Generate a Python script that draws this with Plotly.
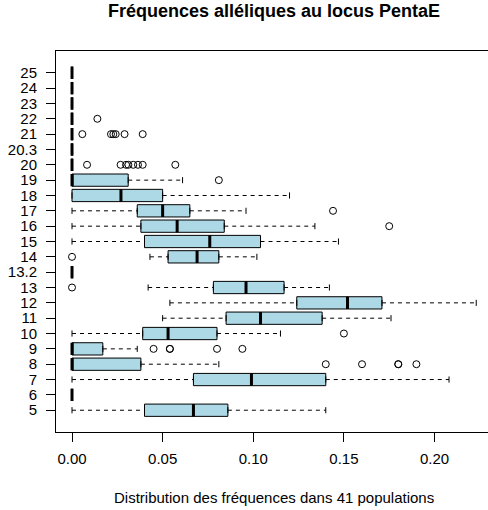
import plotly.graph_objects as go

# ---- data ----
alleles = ["5", "6", "7", "8", "9", "10", "11", "12", "13", "13.2", "14", "15",
           "16", "17", "18", "19", "20", "20.3", "21", "22", "23", "24", "25"]
lower_whisker = [0.000, 0, 0.000, 0, 0, 0.000, 0.050, 0.054, 0.042, 0, 0.043, 0.000,
                 0.000, 0.000, 0, 0, 0, 0, 0, 0, 0, 0, 0]
q1 = [0.040, 0, 0.067, 0, 0, 0.039, 0.085, 0.124, 0.078, 0, 0.053, 0.040,
      0.038, 0.036, 0, 0, 0, 0, 0, 0, 0, 0, 0]
median = [0.067, 0, 0.099, 0, 0, 0.053, 0.104, 0.152, 0.096, 0, 0.069, 0.076,
          0.058, 0.050, 0.027, 0, 0, 0, 0, 0, 0, 0, 0]
q3 = [0.086, 0, 0.140, 0.038, 0.017, 0.080, 0.138, 0.171, 0.117, 0, 0.081, 0.104,
      0.084, 0.065, 0.050, 0.031, 0, 0, 0, 0, 0, 0, 0]
upper_whisker = [0.140, 0, 0.208, 0.081, 0.036, 0.115, 0.176, 0.223, 0.142, 0, 0.102, 0.147,
                 0.134, 0.096, 0.120, 0.061, 0, 0, 0, 0, 0, 0, 0]
outlier_allele = ["8", "8", "8", "8", "8",
                  "9", "9", "9", "9", "9",
                  "10", "13", "14", "16", "17", "19",
                  "20", "20", "20", "20", "20", "20", "20", "20",
                  "21", "21", "21", "21", "21", "21",
                  "22"]
outlier_value = [0.140, 0.160, 0.180, 0.180, 0.190,
                 0.045, 0.054, 0.054, 0.080, 0.094,
                 0.150, 0.000, 0.000, 0.175, 0.144, 0.081,
                 0.0083, 0.0268, 0.0298, 0.0311, 0.0338, 0.0364, 0.039, 0.057,
                 0.0057, 0.0215, 0.0228, 0.0241, 0.029, 0.039,
                 0.014]

title_text = "Fréquences alléliques au locus PentaE"
xlabel_text = "Distribution des fréquences dans 41 populations"
x_ticks = [0.0, 0.05, 0.10, 0.15, 0.20]

# ---- derived ----
pos = list(range(1, len(alleles) + 1))
pos_of = {a: p for a, p in zip(alleles, pos)}
box_w = 0.8
staple_half = 0.2
FONT = "Liberation Sans, Arial, Helvetica, sans-serif"

fig = go.Figure()

fig.add_trace(go.Box(
    orientation="h", y=pos, q1=q1, median=median, q3=q3,
    lowerfence=q1, upperfence=q3,
    width=box_w, fillcolor="#ADD8E6",
    line=dict(color="black", width=1),
    boxpoints=False, hoverinfo="skip",
))

# dashed whiskers
wx, wy = [], []
for p, lo, a, b, hi in zip(pos, lower_whisker, q1, q3, upper_whisker):
    if lo < a:
        wx += [lo, a, None]; wy += [p, p, None]
    if hi > b:
        wx += [b, hi, None]; wy += [p, p, None]
fig.add_trace(go.Scatter(x=wx, y=wy, mode="lines",
                         line=dict(color="black", width=1, dash="4px,4px"),
                         hoverinfo="skip"))

# staples
sx, sy = [], []
for p, lo, a, b, hi in zip(pos, lower_whisker, q1, q3, upper_whisker):
    if lo < a:
        sx += [lo, lo, None]; sy += [p - staple_half, p + staple_half, None]
    if hi > b:
        sx += [hi, hi, None]; sy += [p - staple_half, p + staple_half, None]
fig.add_trace(go.Scatter(x=sx, y=sy, mode="lines",
                         line=dict(color="black", width=1), hoverinfo="skip"))

# thick medians
mx, my = [], []
for p, m in zip(pos, median):
    mx += [m, m, None]; my += [p - box_w / 2, p + box_w / 2, None]
fig.add_trace(go.Scatter(x=mx, y=my, mode="lines",
                         line=dict(color="black", width=3), hoverinfo="skip"))

# outliers
fig.add_trace(go.Scatter(
    x=outlier_value, y=[pos_of[a] for a in outlier_allele], mode="markers",
    marker=dict(symbol="circle-open", size=7, color="black", line=dict(width=1)),
    hoverinfo="skip"))

W, H = 488, 510
ml, mr, mt, mb = 56, 0, 51, 78
fig.update_layout(
    width=W, height=H,
    margin=dict(l=ml, r=mr, t=mt, b=mb, autoexpand=False),
    paper_bgcolor="white", plot_bgcolor="white",
    showlegend=False,
    font=dict(family=FONT, size=15, color="black"),
    title=dict(text="<b>" + title_text + "</b>", font=dict(size=18, family=FONT, color="black"),
               x=274 / W, xref="container", xanchor="center",
               y=1 - 11 / H, yref="container", yanchor="middle"),
    xaxis=dict(range=[-0.00883, 0.2295], showgrid=False, zeroline=False,
               showline=True, linecolor="black", linewidth=1, mirror=True,
               ticks="outside", ticklen=9, tickcolor="black", tickwidth=1,
               tickvals=x_ticks, tickformat=".2f", ticklabelstandoff=4,
               tickfont=dict(size=15)),
    yaxis=dict(range=[-0.42, 24.42], showgrid=False, zeroline=False,
               showline=True, linecolor="black", linewidth=1, mirror=False,
               ticks="outside", ticklen=9, tickcolor="black", tickwidth=1,
               tickvals=pos, ticktext=alleles, ticklabelstandoff=6,
               tickfont=dict(size=15)),
    annotations=[dict(text=xlabel_text, xref="paper", yref="paper",
                      x=(274 - ml) / (W - ml - mr), y=-(498 - (H - mb)) / (H - mt - mb),
                      xanchor="center", yanchor="middle", showarrow=False,
                      font=dict(size=15, family=FONT, color="black"))],
)

fig.write_html("out.html")
